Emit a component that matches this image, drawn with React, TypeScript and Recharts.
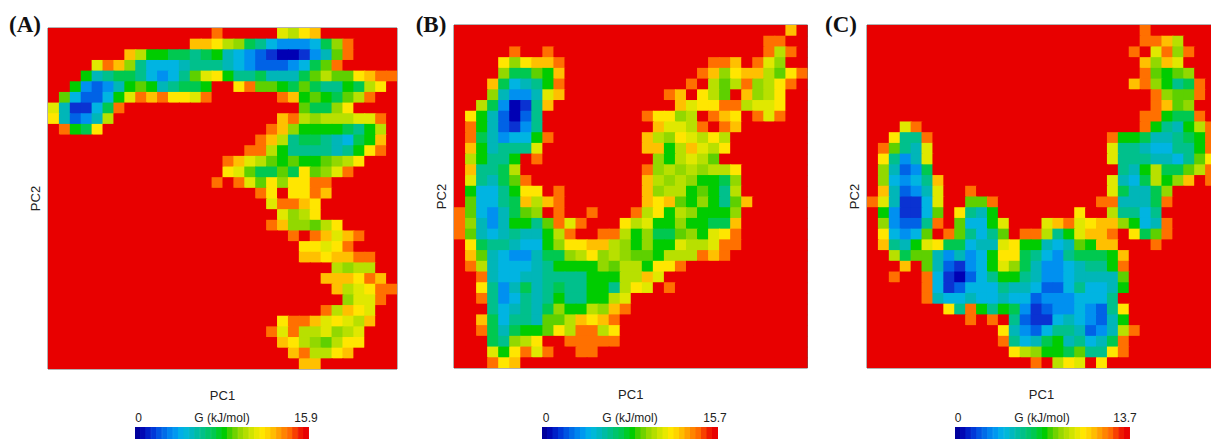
import { BarChart, Bar, Cell, ReferenceArea, Scatter, ScatterChart, XAxis, YAxis } from 'recharts';

// one character per cell: 0-f climbs from deep blue to orange, '.' is the top of the scale (red)
const ROWS_A = [
  '...............f.....cbde.......',
  '.............eedba76433347af....',
  '.......eb887767854321001359f....',
  '....cfea644456665432223479f.....',
  '...85677643469cd866755579b99deff',
  '..8323589856778..df9987976687bd.',
  '.942248cfefddcf......fe89879bf..',
  'c51147f................977ad....',
  'd5235b...............efbabbbccf.',
  '.f87d...............fea8888768b.',
  '...................feb67765478e.',
  '..................ffb86666568df.',
  '................fecb989889abd...',
  '................dc97797d9acf....',
  '...............f.fc9daddff......',
  '...................fd.ddfe......',
  '....................cffed.......',
  '.....................cabd.......',
  '....................feaa9bd.....',
  '......................f.fecef...',
  '.......................ddcdf....',
  '.......................eedeeff..',
  '..........................babb..',
  '.........................eeedfe.',
  '..........................ebcdff',
  '...........................accf.',
  '.........................fbedc..',
  '.....................dffecdcbe..',
  '....................fcfbbcabc...',
  '.....................edba9bdd...',
  '......................efbbde....',
  '.......................ee.......',
];

const ROWS_B = [
  '..............................e.',
  '............................ff..',
  '.....f..f...................fbf.',
  '....dadeef.............ffe.fca..',
  '....a7798e............feadeeb9df',
  '...e74568f...........f.b9bfabdf.',
  '...a5335ce.........fe.db9.eabd..',
  '..b73016e...........ecddffbccd..',
  '.d852026.........fddab.fed.fcf..',
  '.f852136..........eccbf.fe......',
  '.f753448f........ebadcbdb.......',
  '.e85666c.........ee8becbd.......',
  '.b8668.f..........a8bcb9........',
  '.e667b...........fabababbd......',
  '.c6579f..........ebaba887a......',
  '.84468dd.f.......eabb8986b......',
  '.94467ebef.......ede98a869e.....',
  'f943579a.f..f...fbd8ba888a......',
  'fa5358869fcf...dbc88a8877e......',
  'f95456558bf..ffb8a779a8cdf......',
  '.d7665448addeeba8a88cbbcff......',
  '.e95433577abdaba998bbbfef.......',
  '.fb5444568888a9bb8ddf...........',
  '..f544556666888bbec.............',
  '..d635756766886bdc.f............',
  '..f63465686688bc................',
  '...645657a88baef................',
  '..e7466599bedef.................',
  '..f757889dbffbd.................',
  '...76abd..fffff.................',
  '...c8dfcf..ff...................',
  '...fde..........................',
];

const ROWS_C = [
  '.........................f......',
  '.........................ffeb...',
  '........................f.cfaf..',
  '.........................eaec...',
  '.........................f989a..',
  '........................efa867f.',
  '..........................fa99f.',
  '..........................fe9a..',
  '.........................ff877f.',
  '...cf....................f8658bf',
  '..d66f................f88755678f',
  '.f965c................c66544668f',
  '.d635c................c66655469d',
  '.a5237.................658b779bf',
  '.a4346e...............c547b8ae.f',
  '.e5235c..f............c7557a....',
  'fc5114c..99f.........ff5557f....',
  '.831149.d658.......d..b6646.....',
  '.a3226f.9448c...cefcdeea845f....',
  '.d4349.f96469.ffb68ceef.d79f....',
  '.e658cd77455cd8854598ee...f.....',
  '..b799535348dd764367778e........',
  '...e.9521348ca753345668f........',
  '..f..f410246886533455559........',
  '.....f412444655422464458........',
  '.....f54454454423334446.........',
  '.......d6f8687312334326d........',
  '.........f.f.62114543258........',
  '............d5324665235bf.......',
  '............f6457856457f........',
  '.............dba887966df........',
  '...............f.bdc.d..........',
];

const LEVEL_KEYS = '0123456789abcdef.';
const LEVEL_COLORS = [
  '#0000b4', '#0a32d2', '#0062e6', '#0090f0', '#00b4e2', '#00b6b8', '#00c08c', '#00c850', '#00cc00',
  '#5ed000', '#92d800', '#b8e000', '#e0e800', '#ffe600', '#ffc000', '#ff7000', '#e80000',
];

const COLORBAR_STEPS = [
  '#00009c', '#0008b4', '#0020c8', '#0038d8', '#0054e2', '#006ce8', '#0084ee', '#0098f0', '#00aee8', '#00b8d8',
  '#00b8c0', '#00bca4', '#00c088', '#00c46c', '#00c850', '#00cc28', '#00cc00', '#40ce00', '#70d200', '#98d800',
  '#b4de00', '#d0e400', '#e8e800', '#ffe600', '#ffd400', '#ffbc00', '#ffa000', '#ff8400', '#ff6a00', '#f84000',
  '#ee1800', '#e80000',
];

const GRID = 32;

const PANELS = [
  { id: '(A)', rows: ROWS_A, max: '15.9', left: 47.5, top: 27.5, w: 349, h: 341, labelX: 25, barL: 135, barW: 174, zeroX: 138.5, gX: 222, maxX: 306 },
  { id: '(B)', rows: ROWS_B, max: '15.7', left: 453.5, top: 25, w: 353.5, h: 343, labelX: 431, barL: 542, barW: 176, zeroX: 546, gX: 630, maxX: 715 },
  { id: '(C)', rows: ROWS_C, max: '13.7', left: 867, top: 25, w: 349, h: 343, labelX: 841, barL: 955, barW: 175, zeroX: 958, gX: 1042, maxX: 1125 },
];

const colorBarData = COLORBAR_STEPS.map((fill, i) => ({ name: i, value: 1, fill }));

const toCells = (rows: string[]) =>
  rows.flatMap((row, r) =>
    row.split('').map((key, c) => ({ col: c + 0.5, row: r + 0.5, level: LEVEL_KEYS.indexOf(key) })),
  );

const label = (x: number, y: number, text: string, style = {}) => (
  <div
    style={{
      position: 'absolute',
      left: x,
      top: y,
      transform: 'translate(-50%, -50%)',
      whiteSpace: 'nowrap',
      font: '12px "Liberation Sans", Arial, sans-serif',
      color: '#222',
      ...style,
    }}
  >
    {text}
  </div>
);

const Panel = ({ panel }: { panel: (typeof PANELS)[number] }) => {
  const cw = panel.w / GRID;
  const ch = panel.h / GRID;
  const cells = toCells(panel.rows);
  return (
    <>
      <div style={{ position: 'absolute', left: panel.left - 30, top: panel.top - 2 }}>
        <ScatterChart
          width={panel.w + 32}
          height={panel.h + 42}
          margin={{ top: 2, right: 2, bottom: 0, left: 0 }}
        >
          <XAxis
            type="number"
            dataKey="col"
            domain={[0, GRID]}
            tick={false}
            axisLine={false}
            tickLine={false}
            height={40}
            label={{
              value: 'PC1',
              position: 'insideTop',
              offset: 22,
              style: { font: '13px "Liberation Sans", Arial', fill: '#222' },
            }}
          />
          <YAxis
            type="number"
            dataKey="row"
            domain={[0, GRID]}
            reversed
            tick={false}
            axisLine={false}
            tickLine={false}
            width={30}
            label={{
              value: 'PC2',
              angle: -90,
              position: 'insideRight',
              offset: 13,
              style: { font: '13px "Liberation Sans", Arial', fill: '#222', textAnchor: 'middle' },
            }}
          />
          <Scatter
            data={cells}
            isAnimationActive={false}
            shape={(p: any) => (
              <rect
                x={p.cx - cw / 2}
                y={p.cy - ch / 2}
                width={cw + (p.payload.col < GRID - 1 ? 1 : 0)}
                height={ch + (p.payload.row < GRID - 1 ? 1 : 0)}
                fill={LEVEL_COLORS[p.payload.level]}
              />
            )}
          />
          <ReferenceArea x1={0} x2={GRID} y1={0} y2={GRID} fill="none" stroke="#666" strokeWidth={1} />
        </ScatterChart>
      </div>
      {label(panel.labelX, 25, panel.id, {
        font: 'bold 23px "Liberation Serif", serif',
        color: '#111',
      })}
      {label(panel.zeroX, 418, '0')}
      {label(panel.gX, 418, 'G (kJ/mol)')}
      {label(panel.maxX, 418, panel.max)}
      <div style={{ position: 'absolute', left: panel.barL, top: 427 }}>
        <BarChart
          width={panel.barW}
          height={12}
          data={colorBarData}
          barCategoryGap={0}
          margin={{ top: 0, right: 0, bottom: 0, left: 0 }}
        >
          <XAxis dataKey="name" hide />
          <YAxis domain={[0, 1]} hide />
          <Bar dataKey="value" isAnimationActive={false}>
            {colorBarData.map((d) => (
              <Cell key={d.name} fill={d.fill} stroke={d.fill} strokeWidth={1} />
            ))}
          </Bar>
        </BarChart>
      </div>
    </>
  );
};

export default function App() {
  return (
    <div
      style={{
        position: 'fixed',
        left: 0,
        top: 0,
        width: 1211,
        height: 439,
        overflow: 'hidden',
        background: '#fff',
      }}
    >
      {PANELS.map((p) => (
        <Panel key={p.id} panel={p} />
      ))}
    </div>
  );
}
